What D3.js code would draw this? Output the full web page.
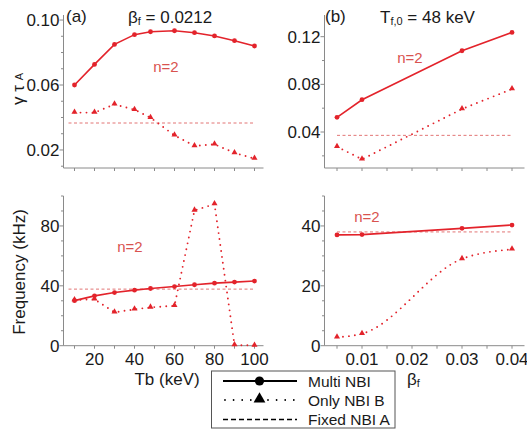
<!DOCTYPE html>
<html><head><meta charset="utf-8">
<script src="https://cdn.jsdelivr.net/npm/d3@7"></script>
<style>
body{margin:0;background:#fff;}
svg text{font-family:"Liberation Sans",Arial,sans-serif;fill:#1a1a1a;}
</style></head>
<body><svg id="c" width="527" height="432"></svg>
<script>
// ---- data ----
const tbValues = [10, 20, 30, 40, 48, 60, 70, 80, 90, 100];
const gammaMultiTb = [0.060, 0.0727, 0.085, 0.091, 0.0928, 0.0934, 0.0922, 0.0902, 0.0873, 0.084];
const gammaOnlyBTb = [0.043, 0.043, 0.0481, 0.0448, 0.0399, 0.029, 0.0225, 0.0235, 0.0182, 0.0147];
const gammaFixedA = 0.0366;
const freqMultiTb = [30.1, 33.3, 35.5, 37.1, 38.2, 39.5, 40.7, 41.8, 42.5, 43.2];
const freqOnlyBTb = [30.6, 31.0, 22.3, 24.3, 25.6, 26.7, 90.4, 94.6, 0.4, 0.2];
const freqFixedA = 37.8;

const betaValues = [0.005, 0.01, 0.03, 0.04];
const gammaMultiBeta = [0.0523, 0.0671, 0.1082, 0.1236];
const gammaOnlyBBeta = [0.0277, 0.0171, 0.0593, 0.0761];
const gammaFixedABeta = 0.0372;
const freqMultiBeta = [37.0, 37.1, 39.2, 40.3];
const freqOnlyBBeta = [2.8, 4.0, 29.0, 32.2];
const freqFixedABeta = 38.0;

const tbTicks = [10, 20, 30, 40, 50, 60, 70, 80, 90, 100];
const tbLabels = [20, 40, 60, 80, 100];
const betaTicks = [0.005, 0.01, 0.015, 0.02, 0.025, 0.03, 0.035, 0.04];
const betaLabels = [0.01, 0.02, 0.03, 0.04];
const gammaTicksA = [0.01,0.02,0.03,0.04,0.05,0.06,0.07,0.08,0.09,0.10];
const gammaLabelsA = [0.02, 0.06, 0.10];
const gammaTicksB = [0.02,0.04,0.06,0.08,0.10,0.12];
const gammaLabelsB = [0.04, 0.08, 0.12];
const freqTicksA = [0,10,20,30,40,50,60,70,80,90,100];
const freqLabelsA = [0, 40, 80];
const freqTicksB = [0,5,10,15,20,25,30,35,40,45,50];
const freqLabelsB = [0, 20, 40];

const legendItems = ["Multi NBI", "Only NBI B", "Fixed NBI A"];

// ---- styles ----
const RED = "#e3232b";
const PINK = "#e27575";
const LABEL_RED = "#d9534f";
const AXIS = "#8a8a8a";

const svg = d3.select("#c");

function panel(o) {
  const x = d3.scaleLinear().domain(o.xd).range(o.xr);
  const y = d3.scaleLinear().domain(o.yd).range(o.yr);
  const g = svg.append("g");
  g.append("line").attr("x1", o.xr[0]).attr("x2", o.xr[0]).attr("y1", o.yr[0]).attr("y2", o.yr[1]).attr("stroke", AXIS).attr("stroke-width", 1);
  g.append("line").attr("x1", o.xr[0]).attr("x2", o.xr[1]).attr("y1", o.yr[0]).attr("y2", o.yr[0]).attr("stroke", AXIS).attr("stroke-width", 1);
  o.yTicks.forEach(t => {
    const major = o.yLabels.some(l => Math.abs(l - t) < 1e-9);
    g.append("line").attr("x1", o.xr[0]).attr("x2", o.xr[0] - (major ? 4 : 2.5))
      .attr("y1", y(t)).attr("y2", y(t)).attr("stroke", AXIS);
  });
  o.yLabels.forEach(t => {
    g.append("text").attr("x", o.xr[0] - 4).attr("y", y(t)).attr("dy", "0.36em")
      .attr("text-anchor", "end").attr("font-size", 17).text(o.yFmt(t));
  });
  o.xTicks.forEach(t => {
    g.append("line").attr("x1", x(t)).attr("x2", x(t)).attr("y1", o.yr[0]).attr("y2", o.yr[0] + 3).attr("stroke", AXIS);
  });
  if (o.xLabels) o.xLabels.forEach(t => {
    g.append("text").attr("x", x(t)).attr("y", o.yr[0] + 19).attr("text-anchor", "middle")
      .attr("font-size", 17).text(o.xFmt(t));
  });
  g.append("line").attr("x1", x(o.fixedRange[0])).attr("x2", x(o.fixedRange[1]))
    .attr("y1", y(o.fixed)).attr("y2", y(o.fixed))
    .attr("stroke", PINK).attr("stroke-width", 1).attr("stroke-dasharray", "3,2.5");
  const lineB = d3.line().x((d, i) => x(o.xs[i])).y(d => y(d)).curve(o.curveB || d3.curveLinear);
  g.append("path").attr("d", lineB(o.onlyB)).attr("fill", "none").attr("stroke", RED)
    .attr("stroke-width", 1.9).attr("stroke-dasharray", "0,6").attr("stroke-linecap", "round");
  const tri = d3.symbol().type(d3.symbolTriangle).size(16);
  g.selectAll(null).data(o.onlyB).enter().append("path").attr("d", tri)
    .attr("transform", (d, i) => `translate(${x(o.xs[i])},${y(d) - 0.5})`).attr("fill", RED);
  const lineM = d3.line().x((d, i) => x(o.xs[i])).y(d => y(d));
  g.append("path").attr("d", lineM(o.multi)).attr("fill", "none").attr("stroke", RED).attr("stroke-width", 1.6);
  g.selectAll(null).data(o.multi).enter().append("circle")
    .attr("cx", (d, i) => x(o.xs[i])).attr("cy", d => y(d)).attr("r", 2.4).attr("fill", RED);
  g.append("text").attr("x", o.nPos[0]).attr("y", o.nPos[1]).attr("text-anchor", "middle")
    .attr("dy", "0.36em").attr("font-size", 15).style("fill", LABEL_RED).text("n=2");
  return {x, y};
}

const fmt2 = d => d.toFixed(2);
const fmtInt = d => d3.format("d")(d);

panel({xd: [4.5, 104.5], xr: [63.5, 263.5], yd: [0.0089, 0.1031], yr: [168, 15],
  xs: tbValues, multi: gammaMultiTb, onlyB: gammaOnlyBTb, fixed: gammaFixedA, fixedRange: [7, 100.5],
  xTicks: tbTicks, yTicks: gammaTicksA, yLabels: gammaLabelsA, yFmt: fmt2, nPos: [166, 67]});

panel({xd: [0.0025, 0.0425], xr: [324.5, 524.5], yd: [0.0098, 0.1382], yr: [168, 15],
  xs: betaValues, multi: gammaMultiBeta, onlyB: gammaOnlyBBeta, fixed: gammaFixedABeta, fixedRange: [0.005, 0.04],
  xTicks: betaTicks, yTicks: gammaTicksB, yLabels: gammaLabelsB, yFmt: fmt2, nPos: [410, 58]});

panel({xd: [4.5, 104.5], xr: [63.5, 263.5], yd: [0, 100], yr: [345.7, 196],
  xs: tbValues, multi: freqMultiTb, onlyB: freqOnlyBTb, fixed: freqFixedA, fixedRange: [7, 100.5],
  xTicks: tbTicks, xLabels: tbLabels, xFmt: fmtInt, yTicks: freqTicksA, yLabels: freqLabelsA, yFmt: fmtInt, nPos: [130, 247]});

panel({xd: [0.0025, 0.0425], xr: [324.5, 524.5], yd: [0, 50], yr: [345.7, 196],
  xs: betaValues, multi: freqMultiBeta, onlyB: freqOnlyBBeta, fixed: freqFixedABeta, fixedRange: [0.005, 0.04],
  xTicks: betaTicks, xLabels: betaLabels, xFmt: d => d.toFixed(2), yTicks: freqTicksB, yLabels: freqLabelsB, yFmt: fmtInt,
  nPos: [367, 217], curveB: d3.curveMonotoneX});

svg.append("text").attr("x", 66).attr("y", 22).attr("font-size", 17).text("(a)");
const t1 = svg.append("text").attr("x", 128).attr("y", 23).attr("font-size", 17);
t1.append("tspan").text("β");
t1.append("tspan").attr("font-size", 11).attr("dy", 2).text("f");
t1.append("tspan").attr("dy", -2).text(" = 0.0212");

svg.append("text").attr("x", 325).attr("y", 22).attr("font-size", 17).text("(b)");
const t2 = svg.append("text").attr("x", 380).attr("y", 23).attr("font-size", 17);
t2.append("tspan").text("T");
t2.append("tspan").attr("font-size", 11).attr("dy", 2).text("f,0");
t2.append("tspan").attr("dy", -2).text(" = 48 keV");

const yl1 = svg.append("text").attr("transform", "translate(24,89) rotate(-90)").attr("text-anchor", "middle").attr("font-size", 17);
yl1.append("tspan").text("γ τ ");
yl1.append("tspan").attr("font-size", 11).attr("dy", -1).text("A");

svg.append("text").attr("transform", "translate(25,272) rotate(-90)").attr("text-anchor", "middle")
  .attr("font-size", 17).text("Frequency (kHz)");

svg.append("text").attr("x", 167).attr("y", 385).attr("text-anchor", "middle").attr("font-size", 17).text("Tb (keV)");
const xl2 = svg.append("text").attr("x", 407).attr("y", 385).attr("font-size", 17);
xl2.append("tspan").text("β");
xl2.append("tspan").attr("font-size", 11).attr("dy", 2).text("f");

const lg = svg.append("g");
lg.append("rect").attr("x", 211.5).attr("y", 371).attr("width", 183.5).attr("height", 57)
  .attr("fill", "#fff").attr("stroke", "#555").attr("stroke-width", 1);
const rowY = [381, 400, 419.5];
const lx0 = 223, lx1 = 297, lmid = 259.5;
lg.append("line").attr("x1", lx0).attr("x2", lx1).attr("y1", rowY[0]).attr("y2", rowY[0]).attr("stroke", "#000").attr("stroke-width", 2);
lg.append("circle").attr("cx", lmid).attr("cy", rowY[0]).attr("r", 4.6).attr("fill", "#000");
lg.append("line").attr("x1", lx0 + 2).attr("x2", lx1).attr("y1", rowY[1]).attr("y2", rowY[1]).attr("stroke", "#000")
  .attr("stroke-width", 1.8).attr("stroke-dasharray", "0,8.6").attr("stroke-linecap", "round");
lg.append("path").attr("d", d3.symbol().type(d3.symbolTriangle).size(60)).attr("transform", `translate(${lmid},${rowY[1] - 1})`).attr("fill", "#000");
lg.append("line").attr("x1", lx0).attr("x2", lx1).attr("y1", rowY[2]).attr("y2", rowY[2]).attr("stroke", "#000")
  .attr("stroke-width", 1.4).attr("stroke-dasharray", "5,3");
legendItems.forEach((t, i) => {
  lg.append("text").attr("x", 308).attr("y", rowY[i]).attr("dy", "0.36em").attr("font-size", 15.5).text(t);
});
</script></body></html>
